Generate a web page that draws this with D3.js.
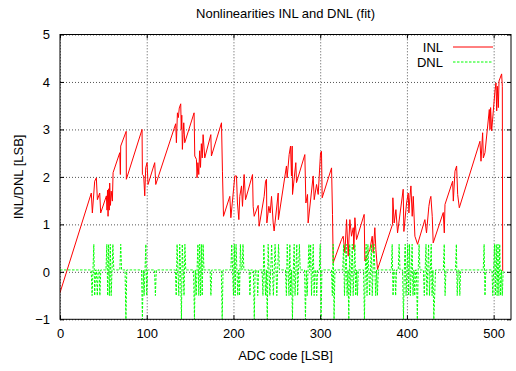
<!DOCTYPE html>
<html><head><meta charset="utf-8">
<script src="https://cdn.jsdelivr.net/npm/d3@7"></script>
<style>
html,body{margin:0;padding:0;background:#fff;}
svg text{font-family:"Liberation Sans",Arial,Helvetica,sans-serif;font-size:13px;fill:#000;}
</style></head>
<body>
<svg id="chart" width="516" height="371"></svg>
<script>
// ---- data ----
const xTicks = [0, 100, 200, 300, 400, 500];
const yTicks = [-1, 0, 1, 2, 3, 4, 5];
const seriesNames = ["INL", "DNL"];

const inlCodes = [0,36.1,37.3,40,41.9,43.1,45.8,46.9,53.5,54.2,54.8,55.4,56.2,56.8,57.3,58.2,59,60.4,61.2,68.9,69.6,70,76.3,76.5,94.6,95,96.5,97.7,98.8,100.4,101.5,109.2,110.4,133.4,134.2,135.4,136.5,137.5,139.2,139.8,140.4,141.1,141.9,142.7,143.8,154.6,155.4,157.3,158,159,160,161,162,163,164,165,166.9,173.9,174.6,186.2,187.3,188.5,195.8,197,201.6,203.5,204.6,206.2,207.3,209.3,210.4,212.3,213.9,222,222.7,223.9,228.5,229.6,235.4,237,238.1,238.5,240.8,242.3,243.9,245.8,246.9,251.6,251.8,261.1,261.9,264.2,265.8,266.9,267.7,268.1,271.9,272.7,282.3,283.5,285.4,286.1,291.9,293.1,295.8,297.7,300.4,301.5,302.3,313.1,314.2,315,324.6,326.5,328.5,330.4,332.3,334.2,336.1,338.1,338.8,340,341.9,350.7,351.5,357.3,360,361.1,363,364.2,366.1,383.4,383.8,385.3,387.3,389.2,395.7,396.5,399.6,401.5,402.3,403.4,404.6,406.1,407.3,409.2,412.3,420.7,422.6,425.3,426.5,427.6,429.2,430.3,441.9,443.1,443.9,452.7,453.5,455.4,457.3,458.5,460.4,484.2,485.4,487.3,488.1,490,495,495.8,496.5,497.7,501.5,502.7,503.5,504.2,505.4,506.2,509.2,510,510.4];
const inlValues = [-0.44,1.66,1.24,1.91,1.98,1.52,1.66,1.24,1.6,1.3,1.72,1.17,1.75,1.3,1.87,1.4,1.7,1.49,2.09,2.51,2.05,2.65,2.96,1.95,3.0,2.05,2.02,1.6,2.19,2.3,1.84,2.3,1.84,3.12,2.72,3.35,3.25,3.45,3.54,3.0,3.3,2.58,2.89,3.14,2.72,3.35,2.44,2.37,1.98,2.3,2.05,2.55,2.2,2.7,2.4,2.89,2.4,2.89,2.44,3.14,2.12,1.17,1.59,1.14,2.02,2.02,1.45,1.1,1.59,1.81,1.38,2.05,1.52,2.05,1.38,1.17,1.4,0.96,1.59,1.91,1.95,1.03,1.38,1.24,1.59,1.03,0.86,1.66,1.1,2.23,1.98,2.47,2.65,2.02,2.65,1.63,2.3,1.88,2.47,1.45,1.63,1.03,2.02,1.52,1.84,1.63,2.51,2.54,1.56,2.19,1.21,0.19,0.68,0.75,0.4,1.1,0.33,1.1,0.75,0.93,0.47,1.14,0.68,1.21,0.23,0.47,0.75,0.4,0.93,0.47,0.05,1.0,1.56,1.03,1.31,0.82,1.74,0.85,1.45,1.66,1.24,1.56,1.81,1.17,1.59,0.75,0.58,1.1,0.82,1.38,1.52,1.59,1.17,0.61,1.25,0.82,1.42,1.91,1.49,2.12,2.23,1.63,1.35,2.75,2.33,2.93,2.4,2.51,3.42,3.0,3.46,2.97,3.81,3.98,3.39,3.91,3.46,4.02,4.17,3.91,0.02];

const dnlFirstCode = 0;
const dnlLastCode = 511;
const dnlBaseline = 0.04;
const dnlSpikeCodes = [37,39,40,43,46,54,55,56,57,58,59,61,70,76,95,97,99,100,110,134,135,137,138,140,141,143,144,155,157,159,160,161,162,163,164,165,174,187,198,200,201,202,203,205,207,208,211,219,224,228,234,235,237,239,240,242,244,246,248,250,252,261,262,264,265,266,268,270,271,273,274,276,283,285,287,289,290,292,293,296,300,301,314,315,316,327,328,330,331,333,334,335,337,338,340,341,343,351,353,354,355,357,359,360,362,364,366,383,384,387,391,396,398,399,401,402,403,404,406,407,409,412,414,420,422,423,425,426,428,429,431,432,443,444,457,458,461,489,490,499,501,502,503,504,505,506,507,508,510];
const dnlSpikeValues = [-0.5,0.58,-0.5,-0.5,-0.5,0.58,-0.5,0.58,-0.5,0.58,-0.5,0.58,0.58,-1,-1,-0.5,0.58,-0.5,-0.5,-0.5,0.58,-0.5,0.58,-1,0.58,-0.5,0.58,-1,-0.5,0.58,-0.5,0.58,-0.5,0.58,-0.5,0.58,-0.5,-1,0.58,-0.5,0.58,-0.5,0.58,-0.5,-0.5,0.58,0.58,-0.5,-1,-0.5,-0.5,0.58,-0.5,-1,0.58,-0.5,0.58,-0.5,0.58,-0.5,0.58,-0.5,0.58,-0.5,0.58,-0.5,-1,0.58,-0.5,0.58,-0.5,0.58,-1,-0.5,0.58,0.58,-0.5,0.58,-0.5,-0.5,0.58,-1,-0.5,0.58,-1,0.58,-0.5,0.58,-0.5,-1,0.58,-0.5,0.58,-0.5,0.58,-0.5,-0.5,-1,0.58,-0.5,0.58,-0.5,0.58,-0.5,0.58,-0.5,-0.5,0.58,-0.5,-0.5,0.58,-1,0.58,-0.5,0.58,-0.5,0.58,-0.5,0.58,-0.5,-0.5,-1,0.58,-0.5,0.58,-0.5,0.58,-0.5,0.58,-0.5,-1,-0.5,0.58,-0.5,0.58,-0.5,-0.5,0.58,-0.5,-0.5,0.58,-0.5,0.58,-0.5,0.58,-0.5,0.58,-0.5,-0.5];

// ---- build series ----
const inl = inlCodes.map((c, i) => ({x: c, y: inlValues[i]}));
const spikeMap = new Map(dnlSpikeCodes.map((c, i) => [c, dnlSpikeValues[i]]));
const dnl = d3.range(dnlFirstCode, dnlLastCode + 1).map(c => ({x: c, y: spikeMap.has(c) ? spikeMap.get(c) : dnlBaseline}));

// ---- layout ----
const svg = d3.select("#chart");
const L = 60, R = 511, T = 34.5, B = 319.3;
const W = R - L, H = B - T;
const x = d3.scaleLinear().domain([0, 520]).range([L, R]);
const y = d3.scaleLinear().domain([-1, 5]).range([B, T]);

svg.append("defs").append("clipPath").attr("id", "clip")
  .append("rect").attr("x", L).attr("y", T).attr("width", W).attr("height", H);

// grid
const gridX = svg.append("g").attr("transform", `translate(0,${B})`)
  .call(d3.axisBottom(x).tickValues(xTicks).tickSize(-H).tickFormat(""));
const gridY = svg.append("g").attr("transform", `translate(${L},0)`)
  .call(d3.axisLeft(y).tickValues(yTicks).tickSize(-W).tickFormat(""));
[gridX, gridY].forEach(g => {
  g.select(".domain").remove();
  g.selectAll("line").attr("stroke", "#555").attr("stroke-width", 1).attr("stroke-dasharray", "1,2");
});

// lines
const line = d3.line().x(d => x(d.x)).y(d => y(d.y));
const plot = svg.append("g").attr("clip-path", "url(#clip)");
plot.append("path").datum(inl).attr("d", line)
  .attr("fill", "none").attr("stroke", "#ff0000").attr("stroke-width", 1);
plot.append("path").datum(dnl).attr("d", line)
  .attr("fill", "none").attr("stroke", "#00ff00").attr("stroke-width", 1)
  .attr("stroke-dasharray", "2.5,1.5");

// axes
const styleAxis = g => {
  g.select(".domain").remove();
  g.selectAll(".tick line").attr("stroke", "#000");
  g.selectAll("text").style("font-size", "13px").attr("fill", "#000");
};
const fmt = d3.format("d");
svg.append("g").attr("transform", `translate(0,${B})`)
  .call(d3.axisBottom(x).tickValues(xTicks).tickSize(-4).tickPadding(9.5).tickFormat(fmt)).call(styleAxis);
svg.append("g").attr("transform", `translate(0,${T})`)
  .call(d3.axisTop(x).tickValues(xTicks).tickSize(-4).tickFormat("")).call(styleAxis);
svg.append("g").attr("transform", `translate(${L},0)`)
  .call(d3.axisLeft(y).tickValues(yTicks).tickSize(-4).tickPadding(10).tickFormat(fmt)).call(styleAxis);
svg.append("g").attr("transform", `translate(${R},0)`)
  .call(d3.axisRight(y).tickValues(yTicks).tickSize(-4).tickFormat("")).call(styleAxis);

// frame
svg.append("rect").attr("x", L).attr("y", T).attr("width", W).attr("height", H)
  .attr("fill", "none").attr("stroke", "#000").attr("stroke-width", 1);

// labels
svg.append("text").attr("x", (L + R) / 2).attr("y", 18).attr("text-anchor", "middle")
  .text("Nonlinearities INL and DNL (fit)");
svg.append("text").attr("x", (L + R) / 2).attr("y", 360).attr("text-anchor", "middle")
  .text("ADC code [LSB]");
svg.append("text").attr("transform", `translate(22.5,${(T + B) / 2}) rotate(-90)`)
  .attr("text-anchor", "middle").text("INL/DNL [LSB]");

// legend
const leg = svg.append("g");
const legY = [47, 62];
const legStroke = ["#ff0000", "#00ff00"];
const legDash = [null, "2.5,1.5"];
seriesNames.forEach((n, i) => {
  leg.append("text").attr("x", 443).attr("y", legY[i] + 4.7).attr("text-anchor", "end").text(n);
  leg.append("line").attr("x1", 453).attr("x2", 493).attr("y1", legY[i]).attr("y2", legY[i])
    .attr("stroke", legStroke[i]).attr("stroke-width", 1).attr("stroke-dasharray", legDash[i]);
});
</script>
</body></html>
